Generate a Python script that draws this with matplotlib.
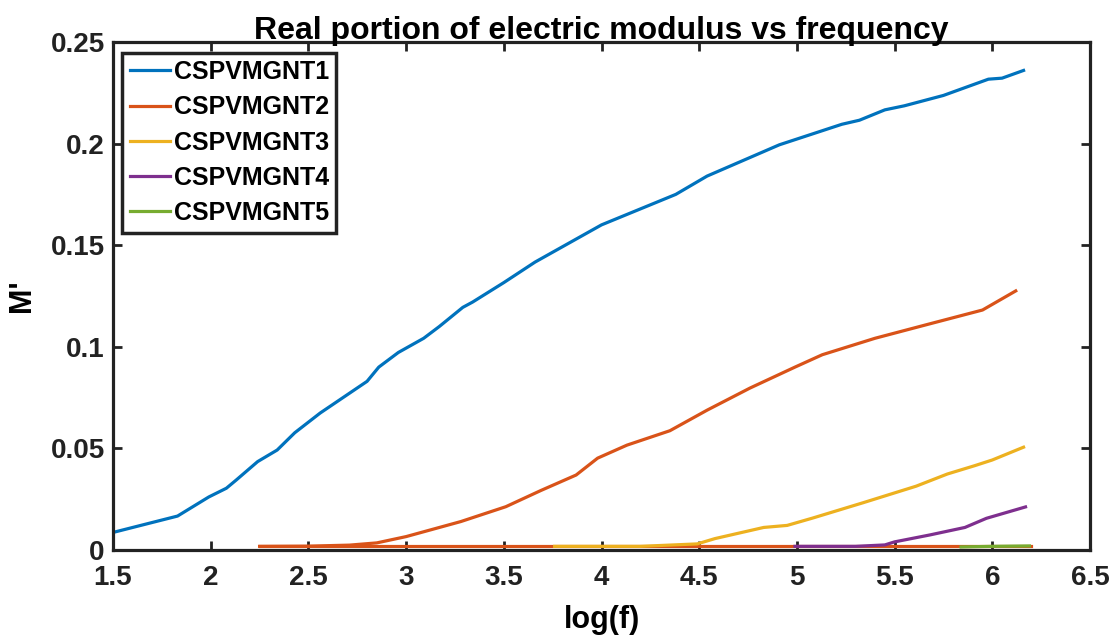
"""Real part of electric modulus M' against log(f) for the CSPVMGNT samples."""

import matplotlib
matplotlib.use("Agg")
import matplotlib.pyplot as plt

plt.rcParams["font.family"] = ["Liberation Sans", "DejaVu Sans"]
plt.rcParams["font.weight"] = "bold"

LABELS = ["CSPVMGNT1", "CSPVMGNT2", "CSPVMGNT3", "CSPVMGNT4", "CSPVMGNT5"]
COLORS = ["#0072BD", "#D95319", "#EDB120", "#7E2F8E", "#77AC30"]

# series 1
logf_1 = [1.49, 1.83, 1.99, 2.08, 2.13, 2.24, 2.34, 2.43, 2.56, 2.66, 2.80, 2.86,
          2.96, 3.09, 3.17, 3.29, 3.34, 3.50, 3.66, 4.00, 4.38, 4.54, 4.91, 5.23,
          5.32, 5.45, 5.55, 5.75, 5.98, 6.05, 6.16]
m_1 = [0.0084, 0.0167, 0.0261, 0.0304, 0.0344, 0.0435, 0.0492, 0.0577, 0.0674,
       0.0739, 0.083, 0.090, 0.0972, 0.1042, 0.110, 0.1194, 0.122, 0.1316, 0.1417,
       0.160, 0.175, 0.184, 0.1994, 0.2095, 0.2115, 0.2166, 0.2186, 0.2237, 0.2317,
       0.2322, 0.236]

# series 2 (rising branch + flat low branch)
logf_2 = [2.25, 2.50, 2.71, 2.85, 3.00, 3.28, 3.51, 3.69, 3.87, 3.98, 4.13, 4.35,
          4.54, 4.76, 4.99, 5.13, 5.40, 5.68, 5.95, 6.12]
m_2 = [0.0018, 0.0019, 0.0024, 0.0035, 0.0066, 0.014, 0.0213, 0.0293, 0.0369,
       0.0452, 0.0516, 0.0587, 0.0688, 0.0797, 0.090, 0.0961, 0.1042, 0.1113,
       0.1181, 0.1275]
logf_2_low = [2.25, 6.20]
m_2_low = [0.0018, 0.0018]

logf_3 = [3.76, 4.20, 4.49, 4.58, 4.83, 4.95, 5.08, 5.34, 5.61, 5.77, 5.91, 6.00, 6.16]
m_3 = [0.0018, 0.0018, 0.0030, 0.0056, 0.0111, 0.0121, 0.0157, 0.0233, 0.0314,
       0.0374, 0.0415, 0.0443, 0.0506]

logf_4 = [4.99, 5.30, 5.45, 5.50, 5.68, 5.86, 5.97, 6.17]
m_4 = [0.0018, 0.0018, 0.0025, 0.004, 0.0074, 0.0111, 0.0156, 0.0212]

logf_5 = [5.84, 6.00, 6.19]
m_5 = [0.0015, 0.0018, 0.0020]

X_TICKS = [1.5, 2, 2.5, 3, 3.5, 4, 4.5, 5, 5.5, 6, 6.5]
Y_TICKS = [0, 0.05, 0.1, 0.15, 0.2, 0.25]


def main() -> None:
    fig = plt.figure(figsize=(11.16, 6.42), dpi=100)
    ax = fig.add_axes([0.1013, 0.1433, 0.8754, 0.7913])

    lw = 2.3
    ax.plot(logf_1, m_1, color=COLORS[0], lw=lw, label=LABELS[0])
    ax.plot(logf_2_low, m_2_low, color=COLORS[1], lw=lw)
    ax.plot(logf_2, m_2, color=COLORS[1], lw=lw, label=LABELS[1])
    ax.plot(logf_3, m_3, color=COLORS[2], lw=lw, label=LABELS[2])
    ax.plot(logf_4, m_4, color=COLORS[3], lw=lw, label=LABELS[3])
    ax.plot(logf_5, m_5, color=COLORS[4], lw=lw, label=LABELS[4])

    ax.set_xlim(1.5, 6.5)
    ax.set_ylim(0, 0.25)
    ax.set_xticks(X_TICKS)
    ax.set_xticklabels([f"{t:g}" for t in X_TICKS])
    ax.set_yticks(Y_TICKS)
    ax.set_yticklabels([f"{t:g}" for t in Y_TICKS])
    ax.tick_params(direction="in", length=6.5, width=2, labelsize=20,
                   top=True, right=True, colors="#222222")
    ax.tick_params(axis="x", pad=11)
    ax.tick_params(axis="y", pad=6)
    for spine in ax.spines.values():
        spine.set_linewidth(2.3)
        spine.set_color("#222222")

    ax.set_title("Real portion of electric modulus vs frequency",
                 fontsize=23, fontweight="bold", pad=2)
    ax.set_xlabel("log(f)", fontsize=22, fontweight="bold", labelpad=10)
    ax.set_ylabel("M'", fontsize=22, fontweight="bold", labelpad=10)

    leg = ax.legend(loc="upper left", fontsize=18, frameon=True, fancybox=False,
                    bbox_to_anchor=(0.0095, 0.979), borderaxespad=0,
                    handlelength=1.6, handletextpad=0.15,
                    labelspacing=0.45, borderpad=0.3, framealpha=1)
    leg.get_frame().set_edgecolor("#222222")
    leg.get_frame().set_linewidth(2.5)
    for text in leg.get_texts():
        text.set_fontweight("bold")

    fig.savefig("out.png", dpi=100)
    plt.close(fig)


if __name__ == "__main__":
    main()
